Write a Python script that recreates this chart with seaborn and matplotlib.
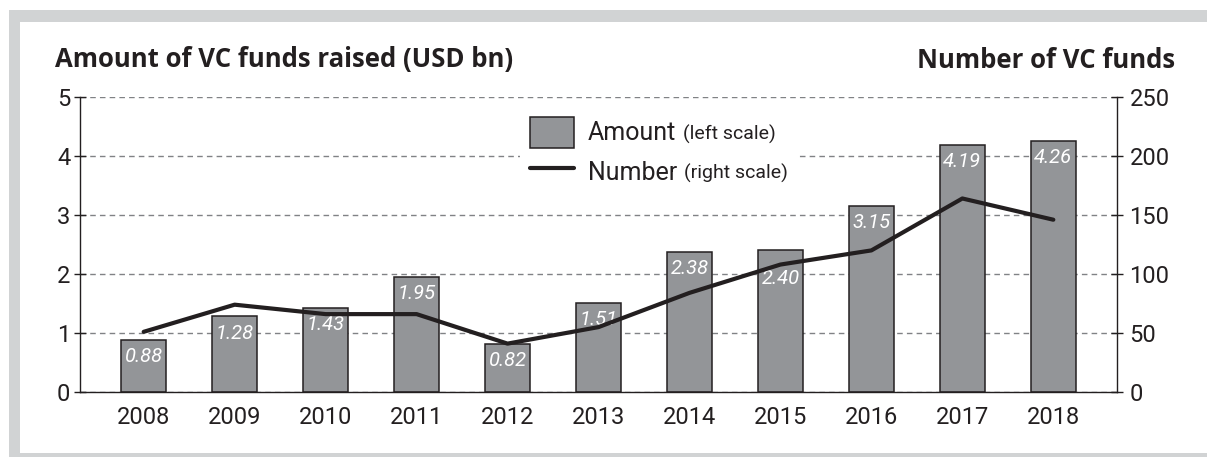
"""
VC funds raised (USD bn, bars, left scale) and number of VC funds (line, right scale), 2008-2018.
"""

import matplotlib
matplotlib.use("Agg")
import matplotlib.pyplot as plt
from matplotlib.patches import Patch, Rectangle
from matplotlib.lines import Line2D
import pandas as pd
import seaborn as sns

YEARS = ["2008", "2009", "2010", "2011", "2012", "2013", "2014", "2015", "2016", "2017", "2018"]
AMOUNT = [0.88, 1.28, 1.43, 1.95, 0.82, 1.51, 2.38, 2.40, 3.15, 4.19, 4.26]
NUMBER = [51, 74, 66, 66, 41, 55, 84, 108, 120, 164, 146]
AMOUNT_LABELS = ["0.88", "1.28", "1.43", "1.95", "0.82", "1.51", "2.38", "2.40", "3.15", "4.19", "4.26"]
LEFT_TICKS = [0, 1, 2, 3, 4, 5]
RIGHT_TICKS = [0, 50, 100, 150, 200, 250]

DARK = "#231f20"
BAR_GREY = "#939598"
FRAME_GREY = "#d1d3d4"
GRID_GREY = "#808285"

W, H = 1207, 457

sns.set_theme(style="white")
plt.rcParams["font.family"] = ["Roboto", "DejaVu Sans"]
plt.rcParams["text.color"] = DARK

df = pd.DataFrame({"year": YEARS, "amount": AMOUNT, "number": NUMBER})

fig = plt.figure(figsize=(W / 100, H / 100), dpi=100)
fig.patch.set_facecolor("white")
# light grey frame (top, left, bottom bands)
fig.patches.append(Rectangle((9 / W, 0), 1, (H - 10) / H, transform=fig.transFigure,
                             facecolor=FRAME_GREY, edgecolor="none", zorder=-2))
fig.patches.append(Rectangle((20 / W, 4 / H), 1, (453 - 22) / H, transform=fig.transFigure,
                             facecolor="white", edgecolor="none", zorder=-1))

ax = fig.add_axes([80 / W, 1 - 392 / H, (1117 - 80) / W, (392 - 97) / H])
ax.patch.set_alpha(0)

sns.barplot(data=df, x="year", y="amount", ax=ax, color=BAR_GREY, saturation=1,
            width=0.5, edgecolor=DARK, linewidth=1.1, zorder=2)
ax.set_xlim(-0.7, len(YEARS) - 0.3)
ax.set_ylim(0, 5)
ax.set_yticks(LEFT_TICKS)
ax.set_xlabel("")
ax.set_ylabel("")
ax.yaxis.grid(True, color=GRID_GREY, linestyle=(0, (4, 3)), linewidth=1.0, zorder=0)
ax.set_axisbelow(True)
ax.tick_params(axis="y", direction="inout", length=8, width=1.0, color=DARK,
               labelsize=17, labelcolor=DARK, pad=3, left=True)
ax.tick_params(axis="x", length=0, labelsize=17, labelcolor=DARK, pad=10)
for side in ["top", "right"]:
    ax.spines[side].set_visible(False)
for side in ["left", "bottom"]:
    ax.spines[side].set_color(DARK)
    ax.spines[side].set_linewidth(1.0)

# value labels inside the bars
for i, (val, lab) in enumerate(zip(AMOUNT, AMOUNT_LABELS)):
    off = -20 if YEARS[i] == "2015" else -12
    ax.annotate(lab, xy=(i, val), xytext=(0, off), textcoords="offset points",
                ha="center", va="center", color="white", fontsize=14.5, style="italic", zorder=3)

ax2 = ax.twinx()
sns.lineplot(x=list(range(len(YEARS))), y=NUMBER, ax=ax2, color=DARK, linewidth=3)
ax2.set_ylim(0, 250)
ax2.set_yticks(RIGHT_TICKS)
ax2.tick_params(axis="y", direction="inout", length=8, width=1.0, color=DARK,
                labelsize=17, labelcolor=DARK, pad=5, right=True)
for side in ["top", "left", "bottom"]:
    ax2.spines[side].set_visible(False)
ax2.spines["right"].set_color(DARK)
ax2.spines["right"].set_linewidth(1.0)

handles = [Patch(facecolor=BAR_GREY, edgecolor=DARK, linewidth=1.1),
           Line2D([0], [0], color=DARK, linewidth=3)]
leg = ax2.legend(handles, ["Amount", "Number"], loc="upper left",
                 bbox_to_anchor=(530 / W, 1 - 117 / H), bbox_transform=fig.transFigure,
                 borderaxespad=0, fontsize=18, frameon=False, borderpad=0,
                 handlelength=1.75, handleheight=1.5, handletextpad=0.55, labelspacing=0.35)
leg.set_zorder(6)

fig.text(55 / W, 1 - 60 / H, "Amount of VC funds raised (USD bn)", ha="left", va="center",
         fontsize=18.5, fontweight="bold", color=DARK, family=["Open Sans", "DejaVu Sans"])
fig.text(1175 / W, 1 - 60 / H, "Number of VC funds", ha="right", va="center",
         fontsize=18.5, fontweight="bold", color=DARK, family=["Open Sans", "DejaVu Sans"])

# small "(left scale)" / "(right scale)" notes after legend labels, plus white backing
fig.canvas.draw()
ends = []
for txt, extra in zip(leg.get_texts(), ["(left scale)", "(right scale)"]):
    bb = txt.get_window_extent()
    t = fig.text((bb.x1 + 7) / W, (bb.y0 + 1.5) / H, extra, ha="left", va="bottom",
                 fontsize=14, color=DARK, zorder=7)
    ends.append(t.get_window_extent().x1)
lb = leg.get_window_extent()
x0, x1 = lb.x0 - 10, max(ends) + 8
ax2.add_patch(Rectangle((x0 / W, (lb.y0 - 6) / H), (x1 - x0) / W, (lb.height + 12) / H,
                        transform=fig.transFigure, facecolor="white", edgecolor="none",
                        zorder=4, clip_on=False))

fig.savefig("out.png", dpi=100)
